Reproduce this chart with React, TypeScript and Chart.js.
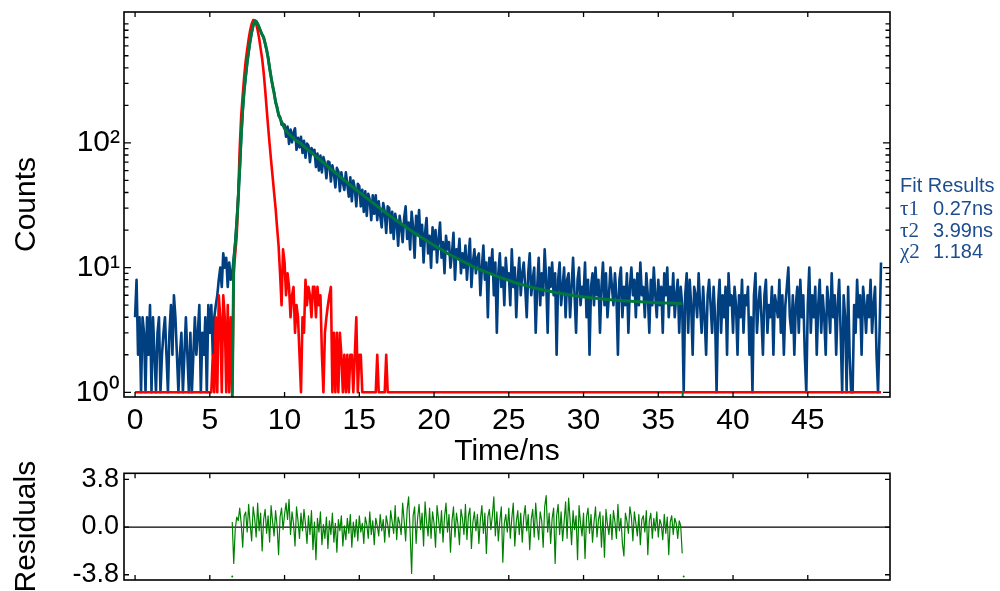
import React, { useEffect, useRef } from 'react';
import { Chart, registerables } from 'chart.js';

Chart.register(...registerables);

// ---- data ----
const channelWidth = 0.1; // ns per channel, decay and IRF start at 0 ns

const decayCounts = [
  4, 8, 2, 4, 1, 4, 3, 1, 4, 2,
  5, 1, 4, 2, 1, 3, 4, 1, 2, 3,
  4, 2, 1, 3, 5, 2, 6, 4, 2, 1,
  2, 3, 1, 2, 4, 2, 1, 3, 1, 2,
  4, 2, 3, 5, 1, 3, 2, 4, 1, 5,
  3, 5, 2, 4, 5, 6, 8, 10, 7, 13,
  10, 12, 7, 11, 8, 9, 12, 16, 24, 38,
  60, 110, 180, 265, 340, 445, 540, 660, 765, 870,
  955, 940, 905, 840, 790, 735, 705, 625, 555, 485,
  395, 340, 285, 255, 210, 195, 165, 162, 140, 142,
  140, 112, 135, 98, 128, 101, 122, 131, 88, 110,
  92, 112, 83, 104, 76, 99, 95, 70, 91, 86,
  88, 64, 82, 60, 79, 58, 77, 69, 52, 71,
  70, 49, 66, 57, 44, 63, 59, 41, 58, 48,
  42, 58, 46, 37, 53, 34, 50, 43, 31, 47,
  45, 31, 42, 28, 41, 26, 39, 35, 24, 38,
  27, 38, 24, 34, 26, 21, 33, 28, 19, 31,
  30, 19, 28, 17, 27, 23, 15, 26, 21, 16,
  25, 31, 17, 23, 14, 28, 21, 12, 26, 19,
  29, 15, 22, 11, 19, 25, 13, 18, 10, 21,
  14, 20, 11, 17, 23, 12, 16, 9, 18, 14,
  16, 10, 13, 19, 8, 14, 12, 17, 9, 13,
  10, 15, 8, 12, 17, 7, 11, 14, 9, 12,
  13, 6, 10, 15, 8, 11, 4, 12, 9, 14,
  6, 11, 3, 9, 13, 7, 10, 5, 12, 8,
  9, 5, 14, 7, 10, 4, 8, 12, 6, 9,
  11, 7, 4, 9, 13, 6, 8, 10, 3, 7,
  12, 5, 9, 6, 14, 8, 3, 10, 7, 11,
  6, 9, 2, 8, 11, 5, 7, 10, 4, 8,
  9, 4, 7, 12, 6, 3, 8, 10, 5, 7,
  6, 11, 4, 8, 2, 7, 9, 5, 10, 6,
  8, 3, 7, 11, 5, 9, 4, 6, 10, 7,
  5, 9, 6, 2, 8, 10, 4, 7, 5, 9,
  3, 7, 10, 6, 8, 4, 9, 5, 11, 6,
  7, 4, 9, 6, 3, 8, 5, 10, 6, 4,
  8, 5, 7, 3, 9, 6, 10, 4, 7, 5,
  9, 4, 6, 8, 3, 7, 5, 1, 6, 9,
  3, 8, 5, 2, 7, 6, 4, 9, 5, 3,
  7, 4, 2, 6, 8, 5, 3, 7, 4, 1,
  5, 8, 3, 6, 4, 7, 2, 9, 5, 6,
  3, 7, 5, 2, 6, 4, 8, 3, 6, 5,
  7, 2, 4, 1, 6, 9, 3, 5, 7, 4,
  2, 6, 8, 3, 5, 4, 7, 2, 6, 5,
  4, 8, 3, 6, 2, 5, 7, 10, 4, 3,
  6, 2, 5, 7, 3, 8, 4, 6, 2, 1,
  5, 10, 3, 6, 4, 7, 2, 5, 8, 3,
  6, 4, 2, 7, 5, 3, 9, 4, 6, 2,
  5, 8, 3, 1, 6, 4, 1, 7, 2, 1,
  1, 5, 3, 8, 4, 6, 2, 7, 5, 3,
  6, 4, 8, 3, 5, 7, 2, 1, 3, 11,
];

const irfCounts = [
  1, 1, 1, 1, 1, 1, 1, 1, 1, 1,
  1, 1, 1, 1, 1, 1, 1, 1, 1, 1,
  1, 1, 1, 1, 1, 1, 1, 1, 1, 1,
  1, 1, 1, 1, 1, 1, 1, 1, 1, 1,
  1, 1, 1, 1, 1, 1, 1, 1, 1, 1,
  1, 1, 2, 1, 4, 1, 6, 4, 1, 6,
  4, 1, 5, 1, 4, 1, 9, 13, 18, 37,
  90, 165, 240, 340, 455, 560, 680, 800, 900, 965,
  960, 900, 800, 690, 570, 475, 370, 270, 190, 135,
  98, 72, 54, 40, 30, 21, 15, 9, 5, 14,
  11, 6, 9, 7, 4, 6, 7, 3, 5, 4,
  2, 1, 4, 3, 8, 5, 7, 6, 4, 7,
  7, 4, 7, 5, 6, 2, 1, 3, 4, 5,
  6, 7, 1, 3, 1, 3, 1, 3, 2, 1,
  2, 1, 2, 1, 2, 2, 1, 2, 4, 1,
  2, 2, 1, 1, 1, 1, 1, 1, 1, 1,
  1, 1, 2, 1, 1, 1, 1, 1, 2, 1,
  1, 1, 1, 1, 1, 1, 1, 1, 1, 1,
  1, 1, 1, 1, 1, 1, 1, 1, 1, 1,
  1, 1, 1, 1, 1, 1, 1, 1, 1, 1,
  1, 1, 1, 1, 1, 1, 1, 1, 1, 1,
  1, 1, 1, 1, 1, 1, 1, 1, 1, 1,
  1, 1, 1, 1, 1, 1, 1, 1, 1, 1,
  1, 1, 1, 1, 1, 1, 1, 1, 1, 1,
  1, 1, 1, 1, 1, 1, 1, 1, 1, 1,
  1, 1, 1, 1, 1, 1, 1, 1, 1, 1,
  1, 1, 1, 1, 1, 1, 1, 1, 1, 1,
  1, 1, 1, 1, 1, 1, 1, 1, 1, 1,
  1, 1, 1, 1, 1, 1, 1, 1, 1, 1,
  1, 1, 1, 1, 1, 1, 1, 1, 1, 1,
  1, 1, 1, 1, 1, 1, 1, 1, 1, 1,
  1, 1, 1, 1, 1, 1, 1, 1, 1, 1,
  1, 1, 1, 1, 1, 1, 1, 1, 1, 1,
  1, 1, 1, 1, 1, 1, 1, 1, 1, 1,
  1, 1, 1, 1, 1, 1, 1, 1, 1, 1,
  1, 1, 1, 1, 1, 1, 1, 1, 1, 1,
  1, 1, 1, 1, 1, 1, 1, 1, 1, 1,
  1, 1, 1, 1, 1, 1, 1, 1, 1, 1,
  1, 1, 1, 1, 1, 1, 1, 1, 1, 1,
  1, 1, 1, 1, 1, 1, 1, 1, 1, 1,
  1, 1, 1, 1, 1, 1, 1, 1, 1, 1,
  1, 1, 1, 1, 1, 1, 1, 1, 1, 1,
  1, 1, 1, 1, 1, 1, 1, 1, 1, 1,
  1, 1, 1, 1, 1, 1, 1, 1, 1, 1,
  1, 1, 1, 1, 1, 1, 1, 1, 1, 1,
  1, 1, 1, 1, 1, 1, 1, 1, 1, 1,
  1, 1, 1, 1, 1, 1, 1, 1, 1, 1,
  1, 1, 1, 1, 1, 1, 1, 1, 1, 1,
  1, 1, 1, 1, 1, 1, 1, 1, 1, 1,
  1, 1, 1, 1, 1, 1, 1, 1, 1, 1,
];

const fitTimes = [
  6.5, 6.6, 6.7, 6.8, 6.9, 7.0, 7.1, 7.2, 7.3, 7.4,
  7.5, 7.6, 7.7, 7.8, 7.9, 8.0, 8.1, 8.2, 8.3, 8.4,
  8.5, 8.6, 8.7, 8.8, 8.9, 9.0, 9.1, 9.2, 9.3, 9.4,
  9.5, 9.6, 9.7, 9.8, 9.9, 10.0, 10.1, 10.2, 10.3, 10.4,
  10.5, 10.6, 10.7, 10.8, 10.9,
  11.0, 11.4, 11.8, 12.2, 12.6, 13.0, 13.4, 13.8, 14.2, 14.6,
  15.0, 15.4, 15.8, 16.2, 16.6, 17.0, 17.4, 17.8, 18.2, 18.6,
  19.0, 19.4, 19.8, 20.2, 20.6, 21.0, 21.4, 21.8, 22.2, 22.6,
  23.0, 23.4, 23.8, 24.2, 24.6, 25.0, 25.4, 25.8, 26.2, 26.6,
  27.0, 27.4, 27.8, 28.2, 28.6, 29.0, 29.4, 29.8, 30.2, 30.6,
  31.0, 31.4, 31.8, 32.2, 32.6, 33.0, 33.4, 33.8, 34.2, 34.6,
  35.0, 35.4, 35.8, 36.2, 36.6,
];
const fitCounts = [
  0.85, 11, 15, 22, 35, 62, 115, 185, 262, 345,
  440, 545, 655, 770, 875, 950, 945, 900, 845, 785,
  740, 700, 630, 560, 480, 400, 335, 290, 250, 215,
  190, 170, 157, 148, 138, 130, 125, 121, 118, 115,
  112, 109, 106, 104, 102,
  101, 91.8, 83.6, 76.1, 69.3, 63.1, 57.6, 52.6, 48.0, 43.9,
  40.2, 36.9, 33.8, 31.1, 28.6, 26.3, 24.3, 22.5, 20.8, 19.3,
  17.9, 16.7, 15.6, 14.6, 13.7, 12.8, 12.1, 11.4, 10.8, 10.2,
  9.7, 9.3, 8.9, 8.5, 8.2, 7.9, 7.6, 7.35, 7.13, 6.92,
  6.74, 6.58, 6.43, 6.29, 6.17, 6.06, 5.96, 5.86, 5.78, 5.71,
  5.64, 5.58, 5.52, 5.47, 5.43, 5.39, 5.35, 5.32, 5.29, 5.26,
  5.23, 5.21, 5.19, 5.17, 5.16,
];
const fitEndTimes = [36.63, 36.63];
const fitEndCounts = [1.0, 0.85];

const residualStart = 6.5; // ns, same 0.1 ns channels
const residualValues = [
  0.4, -2.9, -0.2, 0.8, 0.5,
  1.5, 0.3, -1.6, 0.9, 1.2, -0.4, 1.8, 0.2, -1.1, 1.6,
  0.7, -0.8, 1.9, -0.3, 1.1, -1.9, 0.6, 1.4, -0.5, 0.9,
  -1.2, 1.7, 0.4, -0.7, 1.3, 0.1, -2.2, 0.8, 1.5, -0.2,
  1.0, 1.9, 0.6, 2.2, -0.6, 1.2, 0.3, -1.5, 1.6, 0.5,
  -0.9, 1.1, -0.3, 1.4, 0.2, -1.3, 0.9, -0.6, 1.3, -1.8,
  0.4, -2.6, 0.7, -0.4, 1.2, -1.4, 0.2, -0.9, 0.8, -1.7,
  0.5, -0.6, 1.1, -1.2, 0.3, -2.0, 0.6, -0.3, 0.9, -1.5,
  0.1, -1.0, 0.7, -0.5, 1.0, -1.6, 0.4, -0.8, 0.6, -1.1,
  0.9, -0.4, 0.3, -1.3, 0.8, 0.2, -0.9, 1.2, -0.6, 0.5,
  -1.4, 0.7, 0.1, -0.7, 1.0, -0.3, 0.6, -1.2, 0.9, 0.2,
  -0.8, 1.3, 0.4, -0.5, 1.7, -1.0, 0.8, 0.3, -0.6, 1.9,
  0.5, -1.1, 1.4, 2.4, -0.4, -3.7, 0.9, 1.6, -1.3, 0.7,
  1.8, -0.2, 1.1, -1.5, 2.0, 0.4, -0.7, 1.5, -0.9, 1.2,
  0.3, -1.6, 1.7, 0.6, -0.5, 1.3, -1.2, 0.8, 1.9, -0.4,
  1.0, -2.0, 0.5, 1.6, -0.8, 1.1, 0.2, -1.4, 1.4, 0.7,
  -0.6, 1.8, -1.0, 0.9, 1.5, -1.7, 0.4, 1.2, -0.3, 1.0,
  -1.3, 0.6, 1.7, -0.5, 1.1, -2.1, 0.8, 1.4, -0.2, 0.9,
  2.4, -0.7, 1.2, -1.1, 0.5, 1.6, -2.8, 0.3, 1.0, -0.4,
  1.5, -0.9, 0.7, 1.9, -1.5, 0.4, 1.3, -0.6, 1.1, -1.2,
  0.8, 1.7, -0.3, 1.0, -1.8, 0.6, 1.4, -0.8, 1.9, 0.2,
  -1.0, 1.2, 0.5, -1.6, 1.6, 2.5, -0.4, 1.1, -1.3, 0.7,
  1.5, -2.9, 0.9, 1.8, -0.6, 1.2, -1.1, 0.4, 2.0, -0.9,
  2.3, 0.6, -1.4, 1.3, -0.2, 0.9, -2.6, 1.7, 0.3, -0.7,
  1.1, -2.5, 0.8, 1.5, -0.5, 1.0, -1.2, 0.4, 1.6, -0.8,
  0.6, 1.2, -1.6, 0.9, -2.4, 1.4, 0.2, -0.6, 1.0, -1.0,
  1.3, 0.4, -0.9, 1.8, -0.3, 0.7, -1.3, -2.3, 1.1, 0.5,
  -0.5, 1.6, 0.8, -1.1, 1.2, 0.3, -0.7, 1.0, -1.4, 0.6,
  0.9, -0.4, 1.3, -2.2, 0.5, 1.1, -0.9, 0.7, -0.3, 1.2,
  -0.8, 0.6, 0.2, -1.0, 1.0, -0.5, 0.8, -2.2, 0.4, 0.9,
  -0.6, 0.7, 0.3, -0.9, 0.5, 0.1, -2.1,
];
const residualEdgeTimes = [6.5, 36.7];
const residualEdgeValues = [-3.95, -3.95];

const xTickValues = [0, 5, 10, 15, 20, 25, 30, 35, 40, 45];
const yMajorTicks = [1, 10, 100];
const yMajorLabels = ['10\u2070', '10\u00b9', '10\u00b2'];
const yMinorTicks = [2, 3, 4, 5, 6, 7, 8, 9, 20, 30, 40, 50, 60, 70, 80, 90, 200, 300, 400, 500, 600, 700, 800, 900];
const residualTicks = [3.8, 0, -3.8];
const residualTickLabels = ['3.8', '0.0', '-3.8'];

const fitSymbols = ['\u03c41', '\u03c42', '\u03c72'];
const fitValues = ['0.27ns', '3.99ns', '1.184'];

// ---- styles ----
const BLUE = '#003f80';
const RED = '#ff0000';
const FIT_GREEN = '#00783c';
const RES_GREEN = '#008000';
const TEXT_BLUE = '#1d4d8e';
const SANS = '"Liberation Sans", Arial, Helvetica, sans-serif';

const toPoints = (xs: number[], ys: (number | null)[]) => xs.map((x, i) => ({ x, y: ys[i] }));

function framePlugin(opts: { yTicks: { value: number; len: number }[]; zeroLine?: boolean }) {
  return {
    id: 'frameTicks',
    beforeDatasetsDraw(chart: any) {
      if (!opts.zeroLine) return;
      const { ctx, chartArea: a, scales } = chart;
      const y0 = scales.y.getPixelForValue(0);
      ctx.save();
      ctx.strokeStyle = '#000';
      ctx.lineWidth = 1.3;
      ctx.beginPath();
      ctx.moveTo(a.left, y0);
      ctx.lineTo(a.right, y0);
      ctx.stroke();
      ctx.restore();
    },
    afterDatasetsDraw(chart: any) {
      const { ctx, chartArea: a, scales } = chart;
      ctx.save();
      ctx.strokeStyle = '#000';
      ctx.lineWidth = 1.3;
      ctx.beginPath();
      for (const v of xTickValues) {
        const px = scales.x.getPixelForValue(v);
        ctx.moveTo(px, a.bottom);
        ctx.lineTo(px, a.bottom - 5);
        ctx.moveTo(px, a.top);
        ctx.lineTo(px, a.top + 5);
      }
      for (const t of opts.yTicks) {
        const py = scales.y.getPixelForValue(t.value);
        ctx.moveTo(a.left, py);
        ctx.lineTo(a.left + t.len, py);
        ctx.moveTo(a.right, py);
        ctx.lineTo(a.right - t.len, py);
      }
      ctx.stroke();
      ctx.lineWidth = 1.6;
      ctx.strokeRect(a.left, a.top, a.right - a.left, a.bottom - a.top);
      ctx.restore();
    },
  };
}

export default function App() {
  const mainRef = useRef<HTMLCanvasElement>(null);
  const resRef = useRef<HTMLCanvasElement>(null);

  useEffect(() => {
    Chart.defaults.font.family = SANS;
    Chart.defaults.color = '#000';

    const decayTimes = decayCounts.map((_, i) => Math.round(i * channelWidth * 100) / 100);
    const residualTimes = residualValues.map((_, i) => Math.round((residualStart + i * channelWidth) * 100) / 100);

    const lineBase = {
      pointRadius: 0,
      borderJoinStyle: 'round' as const,
      tension: 0,
      fill: false,
    };

    const mainChart = new Chart(mainRef.current as HTMLCanvasElement, {
      type: 'line',
      data: {
        datasets: [
          { ...lineBase, label: 'Decay', data: toPoints(decayTimes, decayCounts), borderColor: BLUE, borderWidth: 2.6, order: 3 },
          { ...lineBase, label: 'IRF', data: toPoints(decayTimes, irfCounts), borderColor: RED, borderWidth: 2.6, order: 2 },
          { ...lineBase, label: 'Fit', data: toPoints(fitTimes, fitCounts), borderColor: FIT_GREEN, borderWidth: 3, order: 1 },
          { ...lineBase, label: 'Fit end', data: toPoints(fitEndTimes, fitEndCounts), borderColor: FIT_GREEN, borderWidth: 2, order: 1 },
        ],
      },
      options: {
        responsive: false,
        animation: false,
        devicePixelRatio: 1,
        layout: { padding: { top: 12, right: 110, left: 0, bottom: 0 } },
        plugins: { legend: { display: false }, tooltip: { enabled: false } },
        scales: {
          x: {
            type: 'linear',
            min: -0.74,
            max: 50.5,
            grid: { display: false, drawTicks: false },
            border: { display: false },
            afterBuildTicks: (s: any) => { s.ticks = xTickValues.map((value) => ({ value })); },
            ticks: { autoSkip: false, maxRotation: 0, padding: 6, font: { size: 30 }, color: '#000', callback: (v: any) => String(v) },
            title: { display: true, text: 'Time/ns', font: { size: 30 }, color: '#000', padding: { top: 0, bottom: 0 } },
            afterFit: (s: any) => { s.height = 73; s.paddingLeft = 0; s.paddingRight = 0; },
          },
          y: {
            type: 'logarithmic',
            min: 0.917,
            max: 1121,
            grid: { display: false, drawTicks: false },
            border: { display: false },
            afterBuildTicks: (s: any) => {
              s.ticks = [...yMajorTicks, ...yMinorTicks].sort((a, b) => a - b).map((value) => ({ value }));
            },
            ticks: {
              autoSkip: false,
              padding: 4,
              font: { size: 30 },
              color: '#000',
              callback: (v: any) => {
                const k = yMajorTicks.indexOf(Number(v));
                return k >= 0 ? yMajorLabels[k] : '';
              },
            },
            title: { display: true, text: 'Counts', font: { size: 30 }, color: '#000', padding: { top: 9, bottom: 0 } },
            afterFit: (s: any) => { s.width = 124; s.paddingTop = 0; s.paddingBottom = 0; },
          },
        },
      },
      plugins: [
        framePlugin({
          yTicks: [
            ...yMajorTicks.map((value) => ({ value, len: 7 })),
            ...yMinorTicks.map((value) => ({ value, len: 4.5 })),
          ],
        }),
      ],
    } as any);

    const resChart = new Chart(resRef.current as HTMLCanvasElement, {
      type: 'line',
      data: {
        datasets: [
          { ...lineBase, label: 'Residuals', data: toPoints(residualTimes, residualValues), borderColor: RES_GREEN, borderWidth: 1.2, order: 1 },
          {
            label: 'Residual edges',
            data: toPoints(residualEdgeTimes, residualEdgeValues),
            showLine: false,
            pointRadius: 1,
            pointBackgroundColor: RES_GREEN,
            pointBorderColor: RES_GREEN,
            pointBorderWidth: 0,
            order: 2,
          },
        ],
      },
      options: {
        responsive: false,
        animation: false,
        devicePixelRatio: 1,
        layout: { padding: { top: 33.3, right: 110, left: 0, bottom: 11 } },
        plugins: { legend: { display: false }, tooltip: { enabled: false } },
        scales: {
          x: {
            type: 'linear',
            min: -0.74,
            max: 50.5,
            display: false,
          },
          y: {
            type: 'linear',
            min: -4.22,
            max: 4.28,
            grid: { display: false, drawTicks: false },
            border: { display: false },
            afterBuildTicks: (s: any) => { s.ticks = [...residualTicks].sort((a, b) => a - b).map((value) => ({ value })); },
            ticks: {
              autoSkip: false,
              padding: 5,
              font: { size: 27 },
              color: '#000',
              callback: (v: any) => {
                const k = residualTicks.indexOf(Number(v));
                return k >= 0 ? residualTickLabels[k] : '';
              },
            },
            title: { display: true, text: 'Residuals', font: { size: 30 }, color: '#000', padding: { top: 9, bottom: 0 } },
            afterFit: (s: any) => { s.width = 124; s.paddingTop = 0; s.paddingBottom = 0; },
          },
        },
      },
      plugins: [
        framePlugin({ yTicks: residualTicks.map((value) => ({ value, len: 5 })), zeroLine: true }),
      ],
    } as any);

    return () => {
      mainChart.destroy();
      resChart.destroy();
    };
  }, []);

  const textBase: React.CSSProperties = {
    position: 'absolute',
    fontFamily: SANS,
    fontSize: 20,
    lineHeight: '20px',
    color: TEXT_BLUE,
    whiteSpace: 'nowrap',
  };
  const rowTops = [198, 220, 241];

  return (
    <div style={{ position: 'absolute', left: 0, top: 0, width: 1000, height: 591, background: '#fff', overflow: 'hidden' }}>
      <canvas ref={mainRef} width={1000} height={470} style={{ position: 'absolute', left: 0, top: 0, width: 1000, height: 470 }} />
      <canvas ref={resRef} width={1000} height={151} style={{ position: 'absolute', left: 0, top: 440, width: 1000, height: 151 }} />
      <div style={{ ...textBase, left: 900, top: 175 }}>Fit Results</div>
      {fitSymbols.map((sym, i) => (
        <React.Fragment key={sym}>
          <div style={{ ...textBase, left: 900, top: rowTops[i], fontFamily: '"Liberation Serif", "Times New Roman", serif', fontSize: 21 }}>{sym}</div>
          <div style={{ ...textBase, left: 933, top: rowTops[i] }}>{fitValues[i]}</div>
        </React.Fragment>
      ))}
    </div>
  );
}
